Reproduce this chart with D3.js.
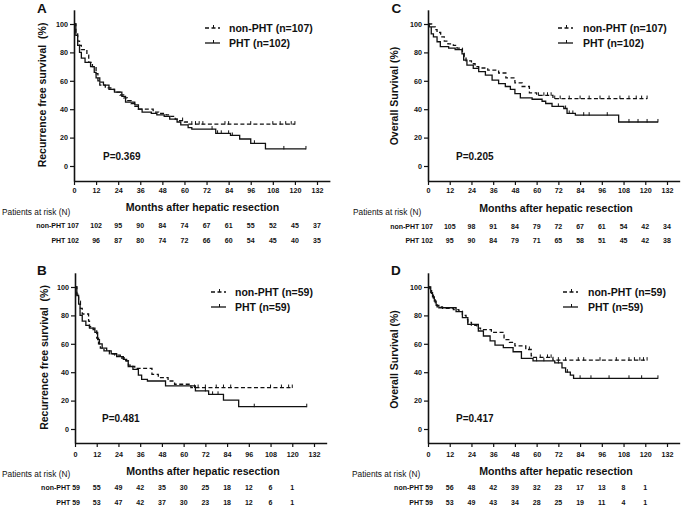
<!DOCTYPE html>
<html><head><meta charset="utf-8">
<script src="https://cdn.jsdelivr.net/npm/d3@7"></script>
<style>body{margin:0;background:#fff}svg{display:block;font-family:"Liberation Sans",Arial,sans-serif}</style>
</head><body><svg width="685" height="507"></svg>
<script>
// ---------- data ----------
const monthTicks = [0,12,24,36,48,60,72,84,96,108,120,132];
const yTicks = [0,20,40,60,80,100];

// Panel A: recurrence free survival, full cohort
const stepsA_non = [[0,100],[1,93],[2,88],[3,85],[4,82],[7,78],[8,73],[10,70],[12,65],[13,60],[14,57],[17,55],[20,54],[22,52],[25,50],[27,48],[29,46],[31,44],[33,42],[35,40],[43,38],[46,37],[50,36],[52,35],[55,33],[57,32],[60,31],[62,29.5]];
const endA_non = 120;
const censA_non = [59,64,66,68,70,82,84,96,108,112,115,118,120];
const stepsA_pht = [[0,100],[1,92],[2,85],[3,80],[4,76],[6,73],[9,70],[11,66],[12,62],[14,59],[16,57],[19,54],[22,52],[26,49],[28,45],[33,43],[35,40],[37,38],[42,37],[45,36],[49,35],[52,33],[56,31],[58,29],[62,27],[64,26],[77,23],[85,21.5],[90,19],[96,16],[104,12]];
const endA_pht = 126;
const censA_pht = [75,78,80,84,86,98,114,126];
const riskA_non = [107,102,95,90,84,74,67,61,55,52,45,37];
const riskA_pht = [102,96,87,80,74,72,66,60,54,45,40,35];

// Panel B: recurrence free survival, matched cohort
const stepsB_non = [[0,100],[1,95],[2,90],[3,85],[4,81],[7.5,76],[8,72],[10,70],[12,64],[13,60],[14,57],[16,55],[19,53],[22,52],[25,50],[28,48],[29.5,45],[31,44],[33,42.7],[42.5,38.5],[46,36.2],[51.4,33.8],[55,31.5],[64,29.2]];
const endB_non = 120;
const censB_non = [66,68,72,78,82,86,108,114,118,120];
const stepsB_pht = [[0,100],[1,94],[2,88],[2.8,80],[4,76],[6,73],[8,71],[11,68],[12.5,63],[13.5,60],[15,57],[17.5,55],[20,53],[23,51],[26.7,49],[28.5,48],[29.4,44],[32,42],[35,38],[36.8,35],[40,33.8],[50,30.3],[66.5,26.8],[73.8,24.4],[82,20.4],[90.4,15.7]];
const endB_pht = 128;
const censB_pht = [72,76,79,99,128];
const riskB_non = [59,55,49,42,35,30,25,18,12,6,1];
const riskB_pht = [59,53,47,42,37,30,23,18,12,6,1];

// Panel C: overall survival, full cohort
const stepsC_non = [[0,100],[2,98],[4,96],[5,94],[7,91],[9,88],[11,86],[14,85],[16,83],[19,80],[20,77],[21,74],[24,72],[26,70],[28,69],[33,67.5],[39,65.5],[43,62],[48,58.5],[52,56],[56,51.5],[60,49.8],[69,47.5]];
const endC_non = 121;
const censC_non = [61,64,66,68,70,73,78,84,89,95,100,106,111,115,118,121];
const stepsC_pht = [[0,100],[0.7,98],[1.8,93],[3,91],[5,87.5],[6.8,84],[11.4,83],[15,82],[18.8,79],[19.7,74.6],[21.5,71],[25,68.7],[28,66.4],[31.7,64],[35.4,60.5],[39,58],[42.7,56],[45.5,54],[48,51],[51,48],[57.5,47],[63,45.6],[65,44],[68.5,42],[75,40.5],[76.8,37],[81.4,35.8],[105.3,31]];
const endC_pht = 127;
const censC_pht = [72,76,78,80,86,89,99,111,116,121,127];
const riskC_non = [107,105,98,91,84,79,72,67,61,54,42,34];
const riskC_pht = [102,95,90,84,79,71,65,58,51,45,42,38];

// Panel D: overall survival, matched cohort
const stepsD_non = [[0,100],[1,98],[2,95],[3,92],[4,89],[5,86],[8,85],[14,84],[17,83],[19,80],[21,77],[22,75],[24,73],[27,71],[29,70],[35,68],[42,63],[45,61],[48,58.5],[54,56],[57,51.5],[58,50.4],[69,48.5]];
const endD_non = 121;
const censD_non = [56,62,66,68,72,76,83,86,95,104,111,114,117,119,121];
const stepsD_pht = [[0,100],[1.5,96],[2.5,93],[3.5,90],[4.5,87],[6,85.4],[15.5,82.6],[19,78.4],[22,73.7],[27.8,69],[30.6,65.5],[34.3,62],[37,59],[41.6,57.3],[47,54.4],[51.6,49.8],[58,48],[70,46.5],[74,43],[76,40],[78.6,38],[80.4,35.7]];
const endD_pht = 127;
const censD_pht = [60,64,72,77,84,90,100,111,118,127];
const riskD_non = [59,56,48,42,39,32,23,17,13,8,1];
const riskD_pht = [59,53,49,43,34,28,25,19,11,4,1];

const rfsTitle = "Recurrence free survival  (%)";
const osTitle = "Overall Survival (%)";
const xTitle = "Months after hepatic resection";
const riskTitle = "Patients at risk (N)";

// ---------- layout ----------
const panels = [
  {letter:"A", lx:37, ly:13, x0:74, x132:317, y0:166, yb:181, pad:2.5, ytitle:rfsTitle, ytx:42, yty:95,
   legX:205, legTX:229, legY1:28, legY2:43, n:"107", n2:"102", p:"P=0.369", pX:103, pY:156,
   mX:202.5, mY:207, patX:2, patY:212, r1:226, r2:241,
   non:[stepsA_non,endA_non,censA_non], pht:[stepsA_pht,endA_pht,censA_pht], rn:riskA_non, rp:riskA_pht},
  {letter:"B", lx:37, ly:275, x0:75, x132:314, y0:429, yb:443, pad:5, ytitle:rfsTitle, ytx:44, yty:357.5,
   legX:211, legTX:235, legY1:292, legY2:307, n:"59", n2:"59", p:"P=0.481", pX:102, pY:418,
   mX:203, mY:471, patX:2, patY:474, r1:488, r2:503,
   non:[stepsB_non,endB_non,censB_non], pht:[stepsB_pht,endB_pht,censB_pht], rn:riskB_non, rp:riskB_pht},
  {letter:"C", lx:391.5, ly:13, x0:428, x132:667, y0:166, yb:181, pad:2.5, ytitle:osTitle, ytx:394, yty:96,
   legX:558, legTX:583, legY1:28, legY2:43, n:"107", n2:"102", p:"P=0.205", pX:456, pY:156,
   mX:556, mY:208, patX:353, patY:212, r1:226.5, r2:241,
   non:[stepsC_non,endC_non,censC_non], pht:[stepsC_pht,endC_pht,censC_pht], rn:riskC_non, rp:riskC_pht},
  {letter:"D", lx:391, ly:275, x0:428, x132:667, y0:429, yb:443, pad:5, ytitle:osTitle, ytx:394.5, yty:359.5,
   legX:563, legTX:588, legY1:292, legY2:307, n:"59", n2:"59", p:"P=0.417", pX:456, pY:418,
   mX:556, mY:471, patX:352, patY:474, r1:488, r2:503,
   non:[stepsD_non,endD_non,censD_non], pht:[stepsD_pht,endD_pht,censD_pht], rn:riskD_non, rp:riskD_pht}
];

const svg = d3.select("svg");
const INK = "#111";

function drawCurve(g, x, y, data, dashed) {
  const [steps, end, cens] = data;
  const pts = steps.concat([[end, steps[steps.length-1][1]]]);
  g.append("path").datum(pts)
    .attr("d", d3.line().x(d=>x(d[0])).y(d=>y(d[1])).curve(d3.curveStepAfter))
    .attr("fill","none").attr("stroke",INK).attr("stroke-width",1.3)
    .attr("stroke-dasharray", dashed ? "4,2.5" : null);
  const valAt = m => steps.filter(s=>s[0]<=m).pop()[1];
  g.selectAll(null).data(cens).enter().append("line")
    .attr("x1",d=>x(d)).attr("x2",d=>x(d))
    .attr("y1",d=>y(valAt(d))-3).attr("y2",d=>y(valAt(d))+0.5)
    .attr("stroke",INK).attr("stroke-width",1);
}

panels.forEach(P => {
  const k = (P.x132 - P.x0) / 132;
  const x = d3.scaleLinear().domain([0,139]).range([P.x0, P.x0 + 139*k]);
  const sy = 1.42;
  const yLow = (P.y0 - P.yb) / sy;
  const y = d3.scaleLinear().domain([yLow, 110]).range([P.yb, P.y0 - 110*sy]);
  const g = svg.append("g");

  // axes
  const ya = g.append("g").attr("transform",`translate(${P.x0},0)`)
    .call(d3.axisLeft(y).tickValues(yTicks).tickSize(4).tickPadding(2).tickSizeOuter(0));
  const xa = g.append("g").attr("transform",`translate(0,${P.yb})`)
    .call(d3.axisBottom(x).tickValues(monthTicks).tickSize(4).tickPadding(P.pad).tickSizeOuter(0));
  [ya,xa].forEach(a => {
    a.select(".domain").attr("stroke",INK).attr("stroke-width",1.6);
    a.selectAll(".tick line").attr("stroke",INK).attr("stroke-width",1.2);
    a.selectAll(".tick text").attr("font-size",7.2).attr("font-weight","bold").attr("fill",INK)
      .attr("font-family",'"Liberation Sans",Arial,sans-serif');
  });

  // curves
  drawCurve(g, x, y, P.non, true);
  drawCurve(g, x, y, P.pht, false);

  // panel letter
  g.append("text").attr("x",P.lx).attr("y",P.ly).text(P.letter)
    .attr("font-size",13.5).attr("font-weight","bold").attr("fill",INK);

  // y title
  g.append("text").attr("transform",`translate(${P.ytx},${P.yty}) rotate(-90)`)
    .attr("text-anchor","middle").attr("dy","0.35em")
    .style("white-space","pre")
    .text(P.ytitle).attr("font-size",10.5).attr("font-weight","bold").attr("fill",INK);

  // legend
  [[P.legY1,true,`non-PHT (n=${P.n})`],[P.legY2,false,`PHT (n=${P.n2})`]].forEach(([ly,dash,label]) => {
    g.append("line").attr("x1",P.legX).attr("x2",P.legX+15).attr("y1",ly).attr("y2",ly)
      .attr("stroke",INK).attr("stroke-width",1.3).attr("stroke-dasharray",dash?"4,2.5":null);
    g.append("line").attr("x1",P.legX+8.5).attr("x2",P.legX+8.5).attr("y1",ly-3).attr("y2",ly)
      .attr("stroke",INK).attr("stroke-width",1);
    g.append("text").attr("x",P.legTX).attr("y",ly).attr("dy","0.35em").text(label)
      .attr("font-size",10.5).attr("font-weight","bold").attr("fill",INK);
  });

  // p-value
  g.append("text").attr("x",P.pX).attr("y",P.pY).attr("dy","0.35em").text(P.p)
    .attr("font-size",10).attr("font-weight","bold").attr("fill",INK);

  // x title
  g.append("text").attr("x",P.mX).attr("y",P.mY).attr("dy","0.35em").attr("text-anchor","middle")
    .text(xTitle).attr("font-size",10.6).attr("font-weight","bold").attr("fill",INK);

  // risk table
  g.append("text").attr("x",P.patX).attr("y",P.patY).attr("dy","0.35em").text(riskTitle)
    .attr("font-size",8.3).attr("fill",INK);
  [[P.r1,"non-PHT",P.rn],[P.r2,"PHT",P.rp]].forEach(([ry,lab,vals]) => {
    g.append("text").attr("x",P.x0+5).attr("y",ry).attr("dy","0.35em").attr("text-anchor","end")
      .text(`${lab} ${vals[0]}`).attr("font-size",7).attr("font-weight","bold").attr("fill",INK);
    g.selectAll(null).data(vals.slice(1)).enter().append("text")
      .attr("x",(d,i)=>x(monthTicks[i+1])).attr("y",ry).attr("dy","0.35em").attr("text-anchor","middle")
      .text(d=>d).attr("font-size",7).attr("font-weight","bold").attr("fill",INK);
  });
});
</script>
</body></html>
